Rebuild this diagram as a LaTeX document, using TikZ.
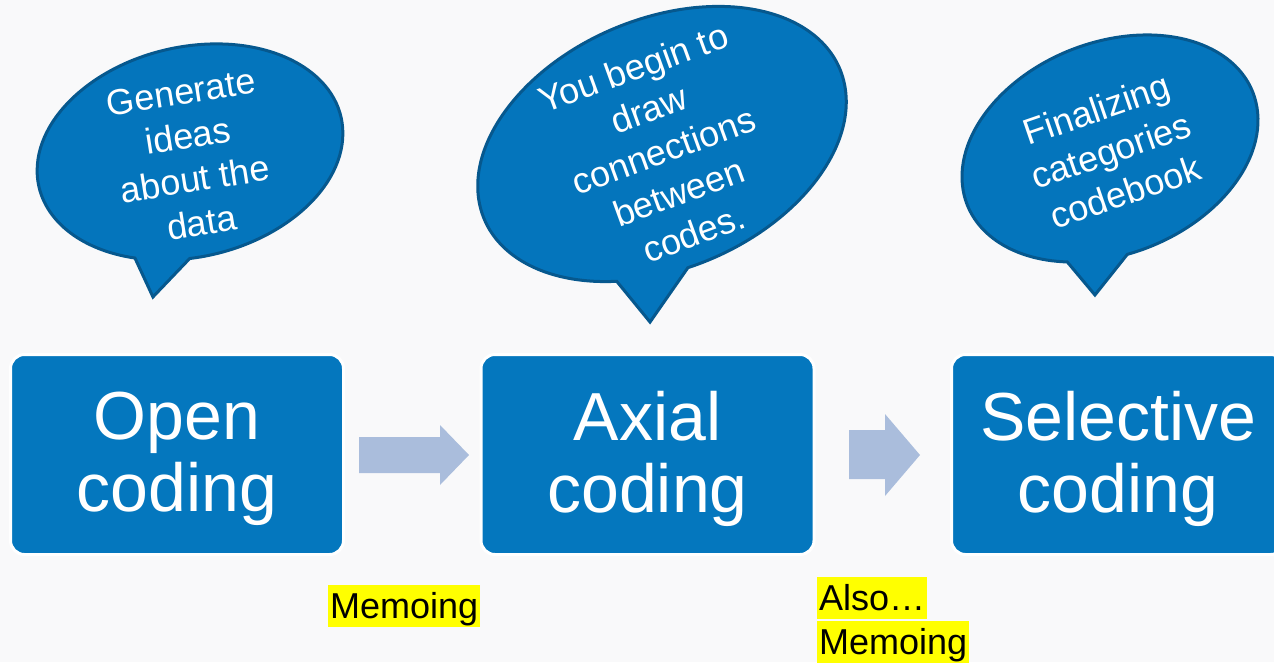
\documentclass[tikz,border=0pt]{standalone}
\usepackage{fontspec}
\setmainfont{Liberation Sans}
\definecolor{bg}{RGB}{249,249,250}
\definecolor{boxblue}{RGB}{4,119,190}
\definecolor{bubblefill}{RGB}{4,117,188}
\definecolor{bubbleedge}{RGB}{6,88,142}
\definecolor{arrowblue}{RGB}{170,189,220}
\definecolor{hlyellow}{RGB}{255,255,0}
\newcommand\speechbubble[8]{%
  \begin{scope}[shift={(#1,-#2)}, rotate=#5]
    \filldraw[bubble] ({#3*cos(#6)},{#4*sin(#6)}) arc[start angle=#6, end angle=#7, x radius=#3, y radius=#4] -- #8 -- cycle;
  \end{scope}}
\tikzset{
  bubble/.style={fill=bubblefill, draw=bubbleedge, line width=3pt},
  btext/.style={text=white, align=center, inner sep=0pt, font=\fontsize{36}{44}\selectfont},
  box/.style={draw=white, line width=3pt, fill=boxblue, rounded corners=14pt, minimum width=333pt, minimum height=200pt, inner sep=0pt},
  boxtext/.style={text=white, align=center, inner sep=0pt, font=\fontsize{68}{72}\selectfont},
  blockarrow/.style={fill=arrowblue, draw=none},
  hl/.style={fill=hlyellow, text=black, inner xsep=2pt, inner ysep=0pt, text height=33pt, text depth=9pt, anchor=north west, font=\fontsize{36}{42}\selectfont}
}
\begin{document}
\begin{tikzpicture}[x=1pt, y=1pt]
\useasboundingbox (0,0) rectangle (1274,-662);
\clip (0,0) rectangle (1274,-662);
\fill[bg] (0,0) rectangle (1274,-662);

% speech bubbles
\speechbubble{190}{152}{155}{105}{13}{-99}{240}{(-68.7,-132.9)}
\speechbubble{662}{144}{193}{125}{23}{-97.3}{240.4}{(-80.6,-159.2)}
\speechbubble{1110}{148.5}{153.5}{106}{21.5}{-98.5}{238}{(-67.7,-130.8)}

\node[btext, rotate=9] (g1) at (191.5,-157.5) {Generate\\ideas\\about the\\data};
\node[btext, rotate=20] (g2) at (663.5,-150.5) {You begin to\\draw\\connections\\between\\codes.};
\node[btext, rotate=19] (g3) at (1111,-150.5) {Finalizing\\categories\\codebook};

% boxes
\node[box] (b1) at (177,-454.5) {};
\node[box] (b2) at (647.5,-454.5) {};
\node[box] (b3) at (1118,-454.5) {};
\node[boxtext] (t1) at ([yshift=-4pt]b1.center) {Open\\coding};
\node[boxtext] (t2) at ([yshift=-4pt]b2.center) {Axial\\coding};
\node[boxtext] (t3) at ([yshift=-4pt]b3.center) {Selective\\coding};

% block arrows
\fill[blockarrow] (359,-437) -- (440,-437) -- (440,-425) -- (469,-455) -- (440,-485) -- (440,-473) -- (359,-473) -- cycle;
\fill[blockarrow] (849,-430) -- (885,-430) -- (885,-414) -- (920,-455) -- (885,-496) -- (885,-479) -- (849,-479) -- cycle;

% highlighted notes
\node[hl] (m1) at (328,-585) {Memoing};
\node[hl] (a2) at (817,-577) {Also…};
\node[hl] (m2) at (817,-621) {Memoing};
\end{tikzpicture}
\end{document}
